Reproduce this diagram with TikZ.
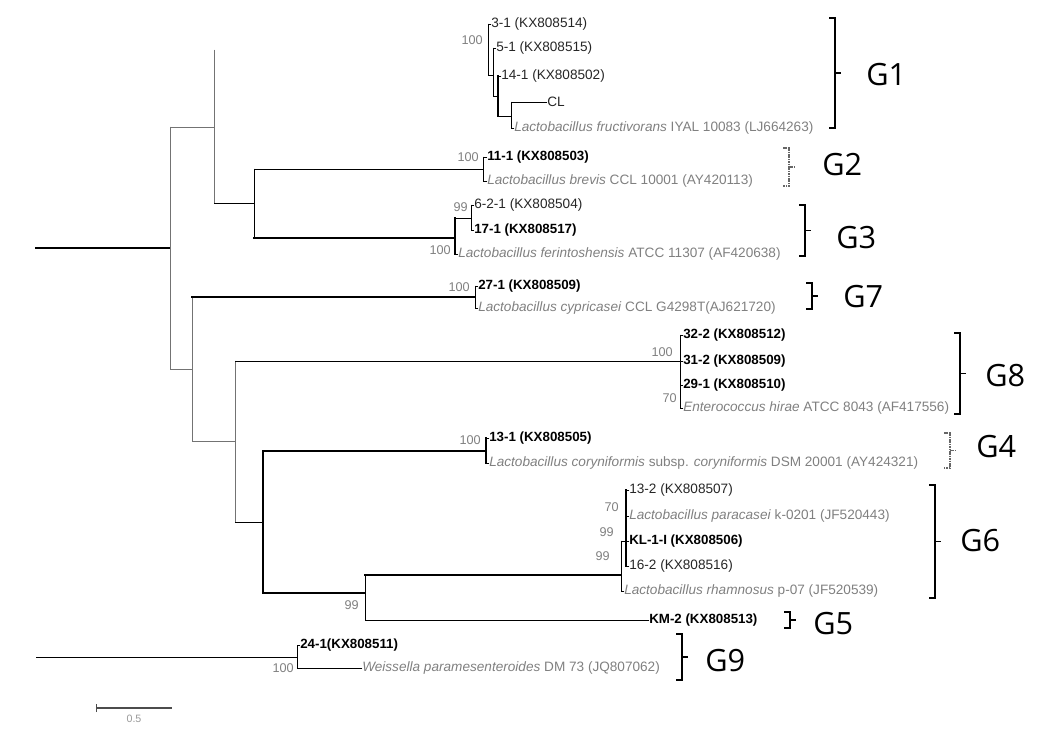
\documentclass[tikz,border=0pt]{standalone}
\usepackage{fontspec}
\setmainfont{Liberation Sans}
\newfontfamily\gfont{Open Sans}
\newcommand{\ed}[4]{\draw[#1] (#3) -- (#3 |- #4); \draw[#2] (#3 |- #4) -- (#4);}
\newcommand{\grpbr}[4]{%
  \draw[#4] ({#1-6},#2) -- (#1,#2) -- (#1,#3) -- ({#1-6},#3);
  \draw[#4] (#1,{(#2+#3)/2}) -- ({#1+6},{(#2+#3)/2});}
\begin{document}
\begin{tikzpicture}[x=0.75pt,y=-0.75pt,
  br/.style={line width=0.6pt, black, line cap=rect},
  brg/.style={line width=0.6pt, black!55, line cap=rect},
  brk/.style={line width=1.7pt, black, line cap=rect},
  leaf/.style={anchor=west, inner sep=0pt, font=\fontsize{10.2}{12}\selectfont},
  iso/.style={leaf, text=black!85},
  isob/.style={leaf, font=\fontsize{10}{12}\selectfont\bfseries},
  spec/.style={leaf, text=black!50},
  bs/.style={anchor=east, inner sep=0pt, text=black!50, font=\fontsize{9.5}{11}\selectfont},
  grp/.style={anchor=west, inner sep=0pt, font=\gfont\fontsize{23}{26}\selectfont},
  brack/.style={line width=0.8pt, black, line join=miter},
  brackd/.style={line width=0.8pt, black!60, dash pattern=on 1.2pt off 0.6pt}
]
\useasboundingbox (0,0) rectangle (1039,737);

% internal nodes
\coordinate (r0) at (36,248);
\coordinate (R) at (170,248);
\coordinate (A) at (214,127);
\coordinate (B) at (192,369);
\coordinate (C) at (254,203);
\coordinate (g1r) at (488,50);
\coordinate (g1b) at (493,75);
\coordinate (g1c) at (498,96);
\coordinate (g1d) at (511,116);
\coordinate (g2) at (483,169);
\coordinate (g3) at (455,238);
\coordinate (g3a) at (471,218);
\coordinate (g7) at (475,297);
\coordinate (D) at (235,441);
\coordinate (g8) at (680,361);
\coordinate (E) at (263,522);
\coordinate (g4) at (486,451);
\coordinate (F) at (365,593);
\coordinate (G) at (621,575);
\coordinate (H) at (626,541);
\coordinate (g9s) at (36,657);
\coordinate (g9) at (297,657);

% leaves
\node[iso]  (l31)  at (491,24)  {3-1 (KX808514)};
\node[iso]  (l51)  at (496,48)  {5-1 (KX808515)};
\node[iso]  (l141) at (501,76)  {14-1 (KX808502)};
\node[iso]  (lcl)  at (547,102) {CL};
\node[spec] (lfru) at (514,128) {\textit{Lactobacillus fructivorans} IYAL 10083 (LJ664263)};
\node[isob] (l111) at (487,157) {11-1 (KX808503)};
\node[spec] (lbre) at (487,181) {\textit{Lactobacillus brevis} CCL 10001 (AY420113)};
\node[iso]  (l621) at (474,205) {6-2-1 (KX808504)};
\node[isob] (l171) at (474,230) {17-1 (KX808517)};
\node[spec] (lfer) at (458,254) {\textit{Lactobacillus ferintoshensis} ATCC 11307 (AF420638)};
\node[isob] (l271) at (478,286) {27-1 (KX808509)};
\node[spec] (lcyp) at (478,308) {\textit{Lactobacillus cypricasei} CCL G4298T(AJ621720)};
\node[isob] (l322) at (683,335) {32-2 (KX808512)};
\node[isob] (l312) at (683,361) {31-2 (KX808509)};
\node[isob] (l291) at (683,385) {29-1 (KX808510)};
\node[spec] (lent) at (683,408) {\textit{Enterococcus hirae} ATCC 8043 (AF417556)};
\node[isob] (l131) at (489,438) {13-1 (KX808505)};
\node[spec] (lcor) at (489,463) {\textit{Lactobacillus coryniformis} subsp. \textit{coryniformis} DSM 20001 (AY424321)};
\node[iso]  (l132) at (629,490) {13-2 (KX808507)};
\node[spec] (lpar) at (629,516) {\textit{Lactobacillus paracasei} k-0201 (JF520443)};
\node[isob] (lkl)  at (629,541) {KL-1-I (KX808506)};
\node[iso]  (l162) at (629,566) {16-2 (KX808516)};
\node[spec] (lrha) at (624,591) {\textit{Lactobacillus rhamnosus} p-07 (JF520539)};
\node[isob] (lkm)  at (649,620) {KM-2 (KX808513)};
\node[isob] (l241) at (300,645) {24-1(KX808511)};
\node[spec] (lwei) at (362,668) {\textit{Weissella paramesenteroides} DM 73 (JQ807062)};

% branches
\draw[brk] (r0) -- (R);
\ed{brg}{brg}{R}{A}
\ed{brg}{brg}{R}{B}
\draw[brg] (A) -- (A |- g1r);
\ed{brg}{br}{A}{C}
\ed{br}{br}{C}{g2}
\ed{br}{brk}{C}{g3}
\ed{brk}{br}{g3}{g3a}
\ed{brk}{br}{g3}{lfer.west}
\ed{br}{br}{g3a}{l621.west}
\ed{br}{br}{g3a}{l171.west}
\ed{br}{br}{g2}{l111.west}
\ed{br}{br}{g2}{lbre.west}
\ed{br}{br}{g1r}{l31.west}
\ed{br}{br}{g1r}{g1b}
\ed{br}{br}{g1b}{l51.west}
\ed{br}{br}{g1b}{g1c}
\ed{brk}{br}{g1c}{l141.west}
\ed{brk}{br}{g1c}{g1d}
\ed{br}{br}{g1d}{lcl.west}
\ed{br}{br}{g1d}{lfru.west}
\ed{brg}{brk}{B}{g7}
\ed{brg}{brg}{B}{D}
\ed{br}{br}{g7}{l271.west}
\ed{br}{br}{g7}{lcyp.west}
\ed{brg}{br}{D}{g8}
\ed{brg}{br}{D}{E}
\ed{br}{br}{g8}{l322.west}
\ed{br}{br}{g8}{l312.west}
\ed{br}{br}{g8}{l291.west}
\ed{br}{br}{g8}{lent.west}
\ed{brk}{brk}{E}{g4}
\ed{brk}{brk}{E}{F}
\ed{brk}{br}{g4}{l131.west}
\ed{brk}{br}{g4}{lcor.west}
\ed{br}{brk}{F}{G}
\ed{br}{br}{F}{lkm.west}
\ed{br}{br}{G}{H}
\ed{br}{br}{G}{lrha.west}
\ed{brk}{br}{H}{l132.west}
\ed{brk}{br}{H}{lpar.west}
\ed{brk}{br}{H}{lkl.west}
\ed{brk}{br}{H}{l162.west}
\draw[br] (g9s) -- (g9);
\ed{br}{br}{g9}{l241.west}
\ed{br}{br}{g9}{lwei.west}

% bootstrap values
\node[bs] (b1) at (483,40)  {100};
\node[bs] (b2) at (479,157) {100};
\node[bs] (b3) at (468,207) {99};
\node[bs] (b4) at (451,250) {100};
\node[bs] (b5) at (470,287) {100};
\node[bs] (b6) at (673,352) {100};
\node[bs] (b7) at (677,398) {70};
\node[bs] (b8) at (481,440) {100};
\node[bs] (b9) at (619,507) {70};
\node[bs] (b10) at (614,532) {99};
\node[bs] (b11) at (610,556) {99};
\node[bs] (b12) at (359,605) {99};
\node[bs] (b13) at (294,668) {100};

% group brackets
\grpbr{835}{18}{128}{brack}
\grpbr{789}{148}{186}{brackd}
\grpbr{805}{205}{256}{brack}
\grpbr{812}{283}{309}{brack}
\grpbr{960}{333}{414}{brack}
\grpbr{950}{433}{468}{brackd}
\grpbr{935}{485}{598}{brack}
\grpbr{790}{612}{628}{brack}
\grpbr{682}{634}{680}{brack}
\node[grp] (G1) at (866,75)  {G1};
\node[grp] (G2) at (822,165) {G2};
\node[grp] (G3) at (836,238) {G3};
\node[grp] (G7) at (843,297) {G7};
\node[grp] (G8) at (985,376) {G8};
\node[grp] (G4) at (976,447) {G4};
\node[grp] (G6) at (960,541) {G6};
\node[grp] (G5) at (813,624) {G5};
\node[grp] (G9) at (705,661) {G9};

% scale bar
\coordinate (sb1) at (96,708);
\coordinate (sb2) at (172,708);
\draw[line width=0.9pt, black!70] (sb1) -- (sb2);
\draw[line width=0.6pt, black!70] ([yshift=-3pt]sb1) -- ([yshift=3pt]sb1);
\node[text=black!40, font=\fontsize{8}{10}\selectfont, inner sep=0pt] (sbl) at (134,719) {0.5};
\end{tikzpicture}
\end{document}
